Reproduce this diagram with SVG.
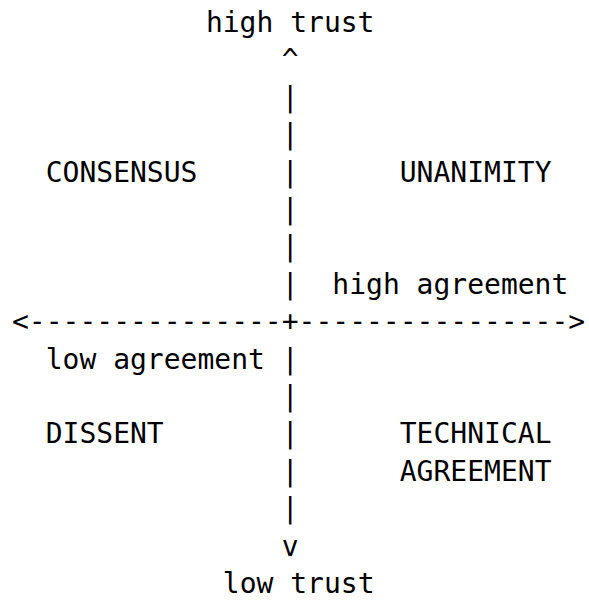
<svg xmlns="http://www.w3.org/2000/svg" width="589" height="607" viewBox="0 0 589 607">
<style>
text { font-family: "DejaVu Sans Mono", monospace; font-size: 28px; fill: #000; white-space: pre; }
</style>
<rect width="589" height="607" fill="#fff"/>
<g id="connectors">
  <text x="205.9" y="32">high trust</text>
  <text x="281.76" y="69.4">^</text>
  <text x="281.76" y="106.8">|</text>
  <text x="281.76" y="144.2">|</text>
  <text x="281.76" y="181.6">|</text>
  <text x="281.76" y="219">|</text>
  <text x="281.76" y="256.4">|</text>
  <text x="281.76" y="293.8">|</text>
  <text x="332.34" y="293.8">high agreement</text>
  <text x="12" y="331.2">&lt;---------------+----------------&gt;</text>
  <text x="45.72" y="368.6">low agreement</text>
  <text x="281.76" y="368.6">|</text>
  <text x="281.76" y="406">|</text>
  <text x="281.76" y="443.4">|</text>
  <text x="281.76" y="480.8">|</text>
  <text x="281.76" y="518.2">|</text>
  <text x="281.76" y="555.6">v</text>
  <text x="222.8" y="593">low trust</text>
</g>
<g id="consensus"><text x="45.72" y="181.6">CONSENSUS</text></g>
<g id="unanimity"><text x="399.78" y="181.6">UNANIMITY</text></g>
<g id="dissent"><text x="45.72" y="443.4">DISSENT</text></g>
<g id="technical-agreement"><text x="399.78" y="443.4">TECHNICAL</text><text x="399.78" y="480.8">AGREEMENT</text></g>
</svg>
